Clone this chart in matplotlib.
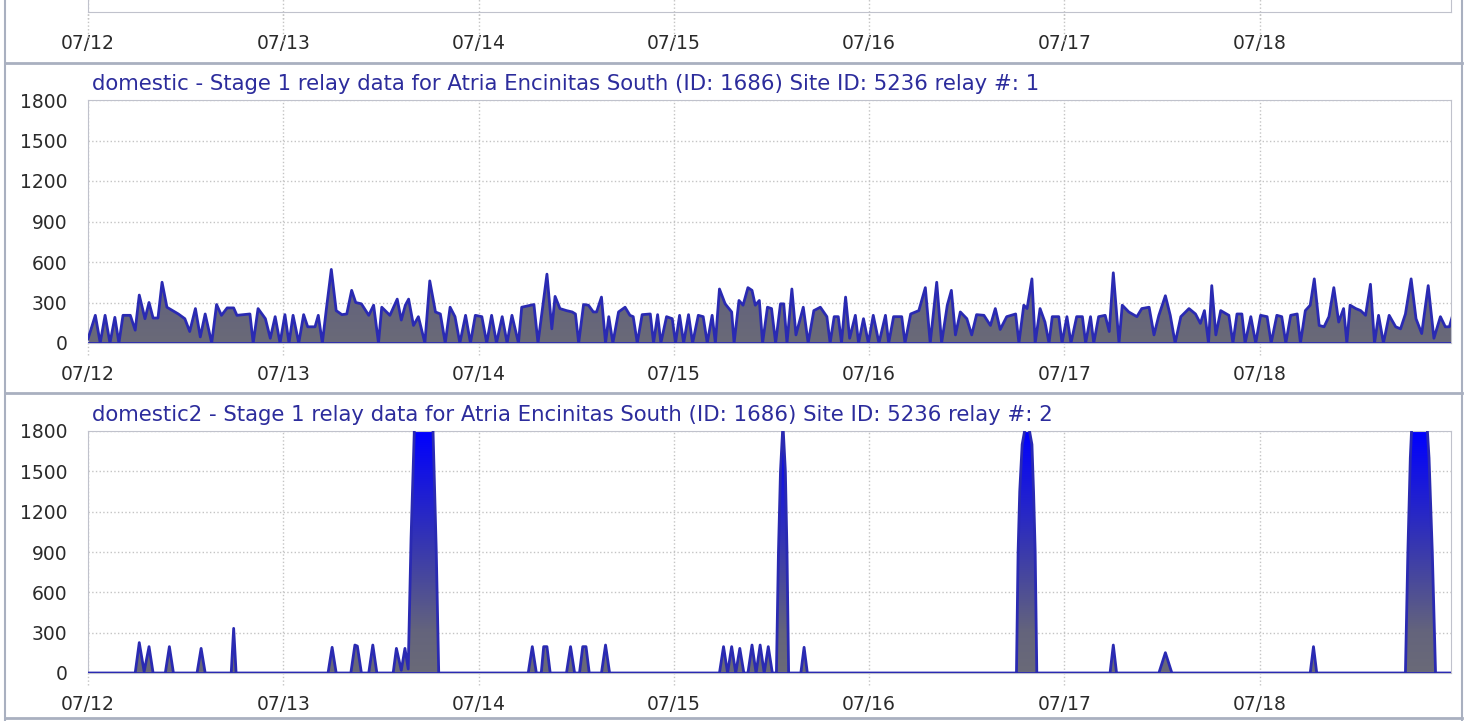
import numpy as np
import matplotlib.pyplot as plt
from matplotlib.colors import LinearSegmentedColormap
from matplotlib.lines import Line2D

plt.rcParams['font.family'] = ['DejaVu Sans']

day_labels = ['07/12', '07/13', '07/14', '07/15', '07/16', '07/17', '07/18']
y_ticks = [0, 300, 600, 900, 1200, 1500, 1800]

title1 = 'domestic - Stage 1 relay data for Atria Encinitas South (ID: 1686) Site ID: 5236 relay #: 1'
title2 = 'domestic2 - Stage 1 relay data for Atria Encinitas South (ID: 1686) Site ID: 5236 relay #: 2'

# (hours since 07/12 00:00, value)
relay1 = [
    (0.0, 30), (0.9, 205), (1.5, 0), (2.1, 205), (2.7, 0), (3.3, 190), (3.8, 0), (4.3, 205),
    (5.2, 205), (5.8, 95), (6.3, 355), (7.0, 180), (7.5, 300), (8.0, 185), (8.6, 185), (9.1, 450),
    (9.7, 265), (11.1, 215), (11.9, 180), (12.5, 85), (13.2, 255), (13.8, 45), (14.4, 215), (15.2, 0),
    (15.8, 285), (16.4, 205), (17.1, 260), (17.9, 260), (18.3, 205), (19.9, 215), (20.3, 0), (20.9, 255),
    (21.8, 180), (22.4, 35), (23.0, 195), (23.6, 0),
    (24.2, 210), (24.7, 0), (25.2, 205), (25.9, 0), (26.5, 210), (27.0, 120), (27.9, 120), (28.3, 205),
    (28.8, 0), (29.3, 255), (29.9, 545), (30.5, 240), (31.2, 210), (31.8, 215), (32.4, 390), (32.9, 300),
    (33.6, 290), (34.5, 205), (35.1, 280), (35.7, 0), (36.1, 265), (37.1, 205), (38.0, 325), (38.5, 170),
    (39.0, 280), (39.4, 325), (40.0, 130), (40.6, 195), (41.4, 0), (42.0, 460), (42.7, 230), (43.3, 215),
    (43.9, 0), (44.5, 265), (45.1, 195), (45.7, 0), (46.4, 205), (47.0, 0), (47.6, 205),
    (48.4, 195), (49.0, 0), (49.6, 205), (50.2, 0), (50.9, 195), (51.5, 0), (52.1, 205), (52.9, 0),
    (53.3, 265), (54.8, 285), (55.3, 0), (56.4, 510), (57.0, 105), (57.4, 345), (58.0, 255), (58.8, 240),
    (59.5, 230), (59.9, 215), (60.3, 0), (60.9, 285), (61.5, 280), (62.1, 230), (62.5, 230), (63.1, 340),
    (63.6, 0), (64.0, 195), (64.5, 0), (65.2, 230), (66.0, 265), (66.6, 205), (67.0, 195), (67.5, 0),
    (68.1, 210), (69.1, 215), (69.5, 0), (70.0, 210), (70.4, 0), (71.1, 195), (71.8, 180),
    (72.2, 0), (72.7, 205), (73.2, 0), (73.8, 210), (74.3, 0), (75.0, 205), (75.6, 195), (76.1, 0),
    (76.7, 205), (77.1, 0), (77.6, 400), (78.3, 290), (79.1, 230), (79.4, 0), (80.0, 315), (80.5, 280),
    (81.1, 410), (81.6, 390), (82.0, 280), (82.5, 315), (82.9, 0), (83.5, 265), (84.0, 255), (84.5, 0),
    (85.1, 290), (85.5, 290), (85.9, 0), (86.5, 400), (87.0, 60), (87.9, 265), (88.5, 0), (89.2, 240),
    (90.0, 265), (90.8, 195), (91.2, 0), (91.7, 195), (92.2, 195), (92.6, 0), (93.1, 340), (93.6, 35),
    (94.3, 205), (94.7, 0), (95.3, 180), (95.9, 0),
    (96.5, 205), (97.2, 0), (98.0, 205), (98.4, 0), (99.0, 195), (100.0, 195), (100.4, 0), (101.1, 215),
    (102.1, 240), (102.9, 410), (103.5, 0), (104.3, 450), (104.9, 0), (105.6, 280), (106.1, 390), (106.6, 60),
    (107.2, 230), (108.0, 180), (108.6, 60), (109.2, 210), (110.1, 205), (110.9, 130), (111.5, 255), (112.1, 100),
    (112.9, 195), (114.0, 215), (114.4, 0), (115.0, 280), (115.4, 255), (116.0, 475), (116.4, 0), (117.0, 255),
    (117.6, 155), (118.1, 0), (118.5, 195), (119.3, 195), (119.7, 0),
    (120.3, 195), (120.8, 0), (121.5, 195), (122.2, 195), (122.6, 0), (123.2, 195), (123.6, 0), (124.2, 195),
    (125.0, 205), (125.5, 85), (126.0, 520), (126.7, 0), (127.1, 280), (127.9, 230), (128.9, 195), (129.5, 255),
    (130.4, 265), (131.0, 60), (131.6, 205), (132.4, 350), (133.0, 205), (133.6, 0), (134.3, 195), (135.3, 255),
    (136.1, 215), (136.7, 145), (137.2, 240), (137.7, 0), (138.1, 425), (138.6, 60), (139.2, 240), (140.2, 205),
    (140.7, 0), (141.2, 215), (141.8, 215), (142.2, 0), (142.9, 195), (143.5, 0),
    (144.1, 205), (144.9, 195), (145.4, 0), (146.1, 205), (146.7, 195), (147.2, 0), (147.8, 205), (148.6, 215),
    (149.0, 0), (149.6, 240), (150.2, 280), (150.7, 475), (151.3, 130), (151.9, 120), (152.5, 195), (153.1, 410),
    (153.7, 155), (154.3, 255), (154.7, 0), (155.1, 280), (155.8, 255), (156.4, 240), (157.0, 205), (157.6, 435),
    (158.1, 0), (158.6, 205), (159.2, 0), (159.9, 205), (160.7, 120), (161.3, 105), (161.9, 215), (162.6, 475),
    (163.2, 180), (163.9, 70), (164.7, 425), (165.4, 35), (166.2, 195), (166.8, 120), (167.3, 120), (167.7, 205),
]

relay2 = [
    (0.0, 0), (5.8, 0), (6.3, 226), (6.9, 10), (7.5, 196), (8.0, 0), (9.5, 0), (10.0, 196), (10.5, 0),
    (13.4, 0), (13.9, 183), (14.4, 0), (17.6, 0), (17.9, 332), (18.2, 0),
    (29.5, 0), (30.0, 191), (30.5, 0), (32.3, 0), (32.8, 208), (33.1, 200), (33.6, 0),
    (34.5, 0), (35.0, 208), (35.5, 0), (37.5, 0), (37.9, 183), (38.5, 20), (38.95, 183), (39.35, 30),
    (39.7, 1000), (40.1, 1800), (40.5, 2000), (42.0, 2000), (42.4, 1800), (42.8, 900), (43.1, 0),
    (54.1, 0), (54.6, 196), (55.1, 0), (55.7, 0), (56.0, 196), (56.4, 196), (56.8, 0),
    (58.8, 0), (59.3, 196), (59.8, 0), (60.4, 0), (60.8, 196), (61.2, 196), (61.6, 0),
    (63.1, 0), (63.6, 208), (64.1, 0),
    (77.6, 0), (78.1, 196), (78.6, 0), (79.1, 196), (79.6, 0), (80.1, 183), (80.6, 0),
    (81.1, 0), (81.6, 208), (82.1, 0), (82.6, 208), (83.1, 0), (83.6, 196), (84.1, 0),
    (84.6, 0), (84.85, 900), (85.1, 1500), (85.4, 1850), (85.7, 1500), (85.9, 900), (86.1, 0),
    (87.6, 0), (88.0, 191), (88.4, 0),
    (114.1, 0), (114.3, 900), (114.5, 1350), (114.8, 1700), (115.4, 1900), (116.0, 1700), (116.2, 1350),
    (116.4, 900), (116.6, 0),
    (125.6, 0), (126.0, 208), (126.4, 0), (131.6, 0), (132.4, 151), (133.2, 0),
    (150.2, 0), (150.6, 196), (151.0, 0),
    (161.9, 0), (162.2, 900), (162.5, 1600), (162.8, 2000), (164.4, 2000), (164.8, 1600), (165.2, 900),
    (165.6, 0), (167.7, 0),
]

x_end = 167.5
fill_cmap = LinearSegmentedColormap.from_list(
    'relay', [(0.0, '#6a6a78'), (0.17, '#64647c'), (0.55, '#3434b4'), (1.0, '#0000ff')], N=256)
line_color = '#2a2ab2'
grid_color = '#c4c4c4'
frame_color = '#c0c2cc'
text_color = '#2a2a2a'
title_color = '#2c2c9c'

W, H = 1468, 721
fig = plt.figure(figsize=(W / 100, H / 100), dpi=100)
fig.patch.set_facecolor('white')

ax_left = 88 / W
ax_width = (1451 - 88) / W


def style_x(ax):
    ax.set_xlim(0, x_end)
    ax.set_xticks([24 * i for i in range(len(day_labels))])
    ax.set_xticklabels(day_labels)
    ax.tick_params(axis='x', length=0, pad=15.5, labelsize=13.5, labelcolor=text_color)
    ax.grid(axis='x', linestyle=':', color=grid_color, linewidth=1)
    for s in ax.spines.values():
        s.set_color(frame_color)
    # dotted grid lines poke out under the axis
    ax.vlines([24 * i for i in range(len(day_labels))], -0.05, 0, transform=ax.get_xaxis_transform(),
              colors=grid_color, linestyles=':', linewidth=1, clip_on=False)


def panel(ax, data, title):
    hours = np.array([p[0] for p in data])
    values = np.array([p[1] for p in data])
    poly = ax.fill_between(hours, values, 0, facecolor='none', edgecolor='none')
    grad = np.linspace(0, 1, 256).reshape(-1, 1)
    im = ax.imshow(grad, cmap=fill_cmap, aspect='auto', origin='lower',
                   extent=[0, x_end, 0, 1800], zorder=1, interpolation='bilinear')
    im.set_clip_path(poly.get_paths()[0], transform=ax.transData)
    ax.plot(hours, values, color=line_color, linewidth=2, zorder=3, solid_joinstyle='round')
    ax.axhline(0, color=line_color, linewidth=2, zorder=3)
    style_x(ax)
    ax.set_ylim(0, 1800)
    ax.set_yticks(y_ticks)
    ax.tick_params(axis='y', length=0, pad=15, labelsize=13.5, labelcolor=text_color)
    ax.grid(axis='y', linestyle=':', color=grid_color, linewidth=1)
    ax.set_axisbelow(True)
    ax.annotate(title, xy=(0, 1), xycoords='axes fraction', xytext=(3, 11.5),
                textcoords='offset points', va='center', ha='left', fontsize=15.3, color=title_color)


# stub of the panel above, only its bottom edge shows
ax0 = fig.add_axes([ax_left, 1 - 12 / H, ax_width, 0.2])
ax0.set_ylim(0, 1)
ax0.set_yticks([])
style_x(ax0)
ax0.vlines([24 * i for i in range(len(day_labels))], -0.2, 0, transform=ax0.get_xaxis_transform(),
           colors=grid_color, linestyles=':', linewidth=1, clip_on=False)

ax1 = fig.add_axes([ax_left, 1 - 343 / H, ax_width, 243 / H])
panel(ax1, relay1, title1)

ax2 = fig.add_axes([ax_left, 1 - 673 / H, ax_width, 242 / H])
panel(ax2, relay2, title2)

# panel borders
border = '#a9b0c0'
for yy in [63, 393, 718]:
    fig.add_artist(Line2D([5 / W, 1462 / W], [1 - yy / H, 1 - yy / H], color=border, linewidth=2))
for xx in [5, 1462]:
    fig.add_artist(Line2D([xx / W, xx / W], [0, 1], color=border, linewidth=1.5))

fig.savefig('out.png', dpi=100)
